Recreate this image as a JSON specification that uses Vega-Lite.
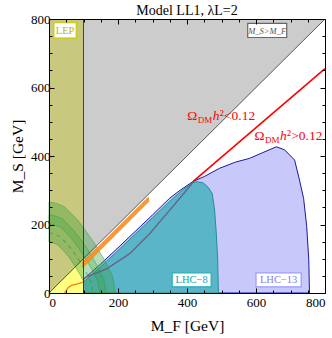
{
"$schema":"https://vega.github.io/schema/vega-lite/v6.json",
"width":276,"height":274,
"autosize":{"type":"none"},
"padding":{"left":49,"top":19,"right":7,"bottom":45},
"background":"white",
"title":{"text":"Model LL1, λL=2","font":"Liberation Serif","fontSize":14,"fontWeight":"normal","color":"black","offset":-5},
"config":{"font":"Liberation Serif","view":{"stroke":null}},
"datasets":{
"gray":[{"mf":0,"ms":0,"o":1},{"mf":800,"ms":800,"o":2},{"mf":0,"ms":800,"o":3}],
"lep":[{"x1":0,"x2":100,"y1":0,"y2":800}],
"yellow":[{"mf":0,"ms":0,"o":1},{"mf":100,"ms":0,"o":2},{"mf":100,"ms":100,"o":3}],
"lhc13":[{"mf":100,"ms":0,"o":1},{"mf":100,"ms":40,"o":2},{"mf":150,"ms":85,"o":3},{"mf":200,"ms":132,"o":4},{"mf":250,"ms":180,"o":5},{"mf":300,"ms":228,"o":6},{"mf":350,"ms":277,"o":7},{"mf":380,"ms":300,"o":8},{"mf":418,"ms":326,"o":9},{"mf":450,"ms":340,"o":10},{"mf":494,"ms":364,"o":11},{"mf":540,"ms":382,"o":12},{"mf":581,"ms":393,"o":13},{"mf":620,"ms":410,"o":14},{"mf":659,"ms":427,"o":15},{"mf":683,"ms":418,"o":16},{"mf":712,"ms":388,"o":17},{"mf":726,"ms":330,"o":18},{"mf":738,"ms":276,"o":19},{"mf":747,"ms":194,"o":20},{"mf":753,"ms":96,"o":21},{"mf":755,"ms":0,"o":22}],
"lhc8":[{"mf":100,"ms":0,"o":1},{"mf":100,"ms":32,"o":2},{"mf":150,"ms":77,"o":3},{"mf":200,"ms":124,"o":4},{"mf":250,"ms":172,"o":5},{"mf":300,"ms":220,"o":6},{"mf":350,"ms":268,"o":7},{"mf":390,"ms":303,"o":8},{"mf":417,"ms":322,"o":9},{"mf":427,"ms":325,"o":10},{"mf":446,"ms":322,"o":11},{"mf":460,"ms":310,"o":12},{"mf":473,"ms":291,"o":13},{"mf":480,"ms":242,"o":14},{"mf":485,"ms":174,"o":15},{"mf":489,"ms":96,"o":16},{"mf":491,"ms":0,"o":17}],
"greenOuter":[{"mf":0,"ms":266,"o":1},{"mf":20,"ms":262,"o":2},{"mf":45,"ms":252,"o":3},{"mf":83,"ms":213,"o":4},{"mf":101,"ms":189,"o":5},{"mf":132,"ms":145,"o":6},{"mf":161,"ms":96,"o":7},{"mf":185,"ms":48,"o":8},{"mf":193,"ms":0,"o":9},{"mf":108,"ms":0,"o":10},{"mf":104,"ms":27,"o":11},{"mf":90,"ms":54,"o":12},{"mf":74,"ms":81,"o":13},{"mf":57,"ms":106,"o":14},{"mf":46,"ms":119,"o":15},{"mf":25,"ms":141,"o":16},{"mf":11,"ms":147,"o":17},{"mf":0,"ms":149,"o":18}],
"greenStripe":[{"mf":0,"ms":229,"o":1},{"mf":17,"ms":225,"o":2},{"mf":39,"ms":217,"o":3},{"mf":71,"ms":183,"o":4},{"mf":87,"ms":163,"o":5},{"mf":114,"ms":125,"o":6},{"mf":138,"ms":83,"o":7},{"mf":159,"ms":41,"o":8},{"mf":166,"ms":0,"o":9},{"mf":147,"ms":0,"o":10},{"mf":141,"ms":36,"o":11},{"mf":122,"ms":73,"o":12},{"mf":100,"ms":110,"o":13},{"mf":77,"ms":144,"o":14},{"mf":63,"ms":162,"o":15},{"mf":34,"ms":192,"o":16},{"mf":15,"ms":199,"o":17},{"mf":0,"ms":202,"o":18}],
"greenDash":[{"mf":0,"ms":176,"o":1},{"mf":13,"ms":173,"o":2},{"mf":30,"ms":166,"o":3},{"mf":55,"ms":141,"o":4},{"mf":67,"ms":125,"o":5},{"mf":87,"ms":96,"o":6},{"mf":106,"ms":63,"o":7},{"mf":122,"ms":32,"o":8},{"mf":127,"ms":0,"o":9}],
"orangeBand":[{"mf":96,"ms":88,"o":1},{"mf":288,"ms":280,"o":2},{"mf":290,"ms":268,"o":3},{"mf":100,"ms":76,"o":4}],
"orangeCurve":[{"mf":45,"ms":0,"o":1},{"mf":50,"ms":8,"o":2},{"mf":56,"ms":16,"o":3},{"mf":65,"ms":22,"o":4},{"mf":80,"ms":26,"o":5},{"mf":95,"ms":30,"o":6},{"mf":101,"ms":33,"o":7}],
"grayCurve":[{"mf":103,"ms":45,"o":1},{"mf":166,"ms":70,"o":2},{"mf":233,"ms":114,"o":3},{"mf":291,"ms":172,"o":4},{"mf":350,"ms":242,"o":5},{"mf":390,"ms":290,"o":6},{"mf":418,"ms":324,"o":7}],
"red":[{"mf":418,"ms":326,"o":1},{"mf":800,"ms":655,"o":2}],
"diag":[{"mf":0,"ms":0,"o":1},{"mf":800,"ms":800,"o":2}],
"boxes":[{"name":"LEP","x1":14,"x2":79,"y1":744,"y2":789,"cx":46.5,"cy":766,"label":"LEP"},{"name":"MS","x1":576,"x2":689,"y1":746,"y2":787,"cx":632.5,"cy":766,"label":"M_S>M_F"},{"name":"LHC8","x1":357,"x2":470,"y1":18,"y2":59,"cx":413.5,"cy":38,"label":"LHC−8"},{"name":"LHC13","x1":600,"x2":731,"y1":18,"y2":59,"cx":665.5,"cy":38,"label":"LHC−13"}],
"redtxt":[{"mf":401,"ms":505,"rest":"²<0.12"},{"mf":596,"ms":447,"rest":"²>0.12"}]
},
"resolve":{"axis":{"x":"independent","y":"independent"}},
"layer":[
{"data":{"name":"gray"},"mark":{"type":"line","fill":"#cccccc","strokeWidth":0,"interpolate":"linear-closed"},
 "encoding":{
  "x":{"field":"mf","type":"quantitative","scale":{"domain":[0,800],"nice":false},"title":"M_F [GeV]",
   "axis":{"orient":"bottom","values":[0,50,100,150,200,250,300,350,400,450,500,550,600,650,700,750,800],"labelExpr":"datum.value % 200 === 0 ? datum.label : ''","tickSize":{"condition":{"test":"datum.value % 200 === 0","value":-5},"value":-3},"tickColor":"black","domainColor":"black","grid":false,"labelFont":"Liberation Serif","labelFontSize":13,"labelColor":"black","labelPadding":8,"titleFont":"Liberation Serif","titleFontSize":15.5,"titleFontWeight":"normal","titleColor":"black","titlePadding":9,"zindex":1}},
  "y":{"field":"ms","type":"quantitative","scale":{"domain":[0,800],"nice":false},"title":"M_S [GeV]",
   "axis":{"orient":"left","values":[0,50,100,150,200,250,300,350,400,450,500,550,600,650,700,750,800],"labelExpr":"datum.value % 200 === 0 ? datum.label : ''","tickSize":{"condition":{"test":"datum.value % 200 === 0","value":-5},"value":-3},"tickColor":"black","domainColor":"black","grid":false,"labelFont":"Liberation Serif","labelFontSize":13,"labelColor":"black","labelPadding":4,"titleFont":"Liberation Serif","titleFontSize":15.5,"titleFontWeight":"normal","titleColor":"black","titlePadding":5,"zindex":1}},
  "order":{"field":"o"}}},
{"data":{"name":"lep"},"mark":{"type":"rect","fill":"#c9c87f"},
 "encoding":{"x":{"field":"x1","type":"quantitative",
   "axis":{"orient":"top","values":[0,50,100,150,200,250,300,350,400,450,500,550,600,650,700,750,800],"labels":false,"title":null,"tickSize":{"condition":{"test":"datum.value % 200 === 0","value":-5},"value":-3},"tickColor":"black","domainColor":"black","grid":false,"zindex":1}},
  "x2":{"field":"x2"},
  "y":{"field":"y1","type":"quantitative",
   "axis":{"orient":"right","values":[0,50,100,150,200,250,300,350,400,450,500,550,600,650,700,750,800],"labels":false,"title":null,"tickSize":{"condition":{"test":"datum.value % 200 === 0","value":-5},"value":-3},"tickColor":"black","domainColor":"black","grid":false,"zindex":1}},
  "y2":{"field":"y2"}}},
{"data":{"name":"yellow"},"mark":{"type":"line","fill":"#ffff80","strokeWidth":0,"interpolate":"linear-closed"},
 "encoding":{"x":{"field":"mf","type":"quantitative","axis":null},"y":{"field":"ms","type":"quantitative","axis":null},"order":{"field":"o"}}},
{"data":{"name":"lhc13"},"mark":{"type":"line","fill":"#c8c8fa","stroke":"#1a1aa0","strokeWidth":1,"interpolate":"linear-closed"},
 "encoding":{"x":{"field":"mf","type":"quantitative","axis":null},"y":{"field":"ms","type":"quantitative","axis":null},"order":{"field":"o"}}},
{"data":{"name":"lhc8"},"mark":{"type":"line","fill":"#5bb5c9","stroke":"#1f8f99","strokeWidth":1,"interpolate":"linear-closed"},
 "encoding":{"x":{"field":"mf","type":"quantitative","axis":null},"y":{"field":"ms","type":"quantitative","axis":null},"order":{"field":"o"}}},
{"data":{"name":"greenOuter"},"mark":{"type":"line","fill":"#2e9e3a","fillOpacity":0.35,"stroke":"#3a9a3a","strokeOpacity":0.5,"strokeWidth":1,"interpolate":"linear-closed"},
 "encoding":{"x":{"field":"mf","type":"quantitative","axis":null},"y":{"field":"ms","type":"quantitative","axis":null},"order":{"field":"o"}}},
{"data":{"name":"greenStripe"},"mark":{"type":"line","fill":"#2e9e3a","fillOpacity":0.25,"stroke":"#3a9a3a","strokeOpacity":0.5,"strokeWidth":1,"interpolate":"linear-closed"},
 "encoding":{"x":{"field":"mf","type":"quantitative","axis":null},"y":{"field":"ms","type":"quantitative","axis":null},"order":{"field":"o"}}},
{"data":{"name":"greenDash"},"mark":{"type":"line","stroke":"#3a9a3a","strokeOpacity":0.6,"strokeWidth":1.2,"strokeDash":[4,4]},
 "encoding":{"x":{"field":"mf","type":"quantitative","axis":null},"y":{"field":"ms","type":"quantitative","axis":null},"order":{"field":"o"}}},
{"data":{"name":"orangeBand"},"mark":{"type":"line","fill":"#ff8c1a","fillOpacity":0.9,"stroke":"#e07810","strokeWidth":0.5,"interpolate":"linear-closed"},
 "encoding":{"x":{"field":"mf","type":"quantitative","axis":null},"y":{"field":"ms","type":"quantitative","axis":null},"order":{"field":"o"}}},
{"data":{"name":"orangeCurve"},"mark":{"type":"line","stroke":"#ff8000","strokeWidth":1.3},
 "encoding":{"x":{"field":"mf","type":"quantitative","axis":null},"y":{"field":"ms","type":"quantitative","axis":null},"order":{"field":"o"}}},
{"data":{"name":"grayCurve"},"mark":{"type":"line","stroke":"#66668a","strokeWidth":1.5},
 "encoding":{"x":{"field":"mf","type":"quantitative","axis":null},"y":{"field":"ms","type":"quantitative","axis":null},"order":{"field":"o"}}},
{"data":{"name":"red"},"mark":{"type":"line","stroke":"#ff0000","strokeWidth":1.6},
 "encoding":{"x":{"field":"mf","type":"quantitative","axis":null},"y":{"field":"ms","type":"quantitative","axis":null},"order":{"field":"o"}}},
{"data":{"name":"diag"},"mark":{"type":"line","stroke":"#333333","strokeWidth":0.8},
 "encoding":{"x":{"field":"mf","type":"quantitative","axis":null},"y":{"field":"ms","type":"quantitative","axis":null},"order":{"field":"o"}}},
{"data":{"name":"lep"},"mark":{"type":"rule","stroke":"#222222","strokeWidth":0.8},
 "encoding":{"x":{"field":"x2","type":"quantitative","axis":null},"y":{"field":"y1","type":"quantitative","axis":null},"y2":{"field":"y2"}}},
{"data":{"name":"boxes"},"mark":{"type":"rect","fill":"white","strokeWidth":1.2},
 "encoding":{"x":{"field":"x1","type":"quantitative","axis":null},"x2":{"field":"x2"},"y":{"field":"y1","type":"quantitative","axis":null},"y2":{"field":"y2"},
  "stroke":{"field":"name","type":"nominal","scale":{"domain":["LEP","MS","LHC8","LHC13"],"range":["#c8c800","#666666","#20b0b0","#9a9aff"]},"legend":null}}},
{"data":{"name":"boxes"},"transform":[{"filter":"datum.name !== 'MS'"}],"mark":{"type":"text","font":"Liberation Serif","fontSize":10.5,"baseline":"middle","align":"center"},
 "encoding":{"x":{"field":"cx","type":"quantitative","axis":null},"y":{"field":"cy","type":"quantitative","axis":null},"text":{"field":"label"},
  "color":{"field":"name","type":"nominal","scale":{"domain":["LEP","MS","LHC8","LHC13"],"range":["#b8b800","#555555","#10a8a8","#8080f0"]},"legend":null}}},
{"data":{"name":"boxes"},"transform":[{"filter":"datum.name === 'MS'"}],"mark":{"type":"text","font":"Liberation Serif","fontSize":8.5,"fontStyle":"italic","baseline":"middle","align":"center","color":"#555555"},
 "encoding":{"x":{"field":"cx","type":"quantitative","axis":null},"y":{"field":"cy","type":"quantitative","axis":null},"text":{"field":"label"}}},
{"data":{"name":"redtxt"},"mark":{"type":"text","fontSize":13.5,"font":"Liberation Serif","align":"left","baseline":"alphabetic","color":"#ff0000"},
 "encoding":{"x":{"field":"mf","type":"quantitative","axis":null},"y":{"field":"ms","type":"quantitative","axis":null},"text":{"value":"Ω"}}},
{"data":{"name":"redtxt"},"mark":{"type":"text","fontSize":9,"font":"Liberation Serif","align":"left","baseline":"alphabetic","color":"#ff0000","dx":10.5,"dy":3},
 "encoding":{"x":{"field":"mf","type":"quantitative","axis":null},"y":{"field":"ms","type":"quantitative","axis":null},"text":{"value":"DM"}}},
{"data":{"name":"redtxt"},"mark":{"type":"text","fontSize":13.5,"font":"Liberation Serif","fontStyle":"italic","align":"left","baseline":"alphabetic","color":"#ff0000","dx":25.5},
 "encoding":{"x":{"field":"mf","type":"quantitative","axis":null},"y":{"field":"ms","type":"quantitative","axis":null},"text":{"value":"h"}}},
{"data":{"name":"redtxt"},"mark":{"type":"text","fontSize":13.5,"font":"Liberation Serif","align":"left","baseline":"alphabetic","color":"#ff0000","dx":32.5},
 "encoding":{"x":{"field":"mf","type":"quantitative","axis":null},"y":{"field":"ms","type":"quantitative","axis":null},"text":{"field":"rest"}}}
]
}
